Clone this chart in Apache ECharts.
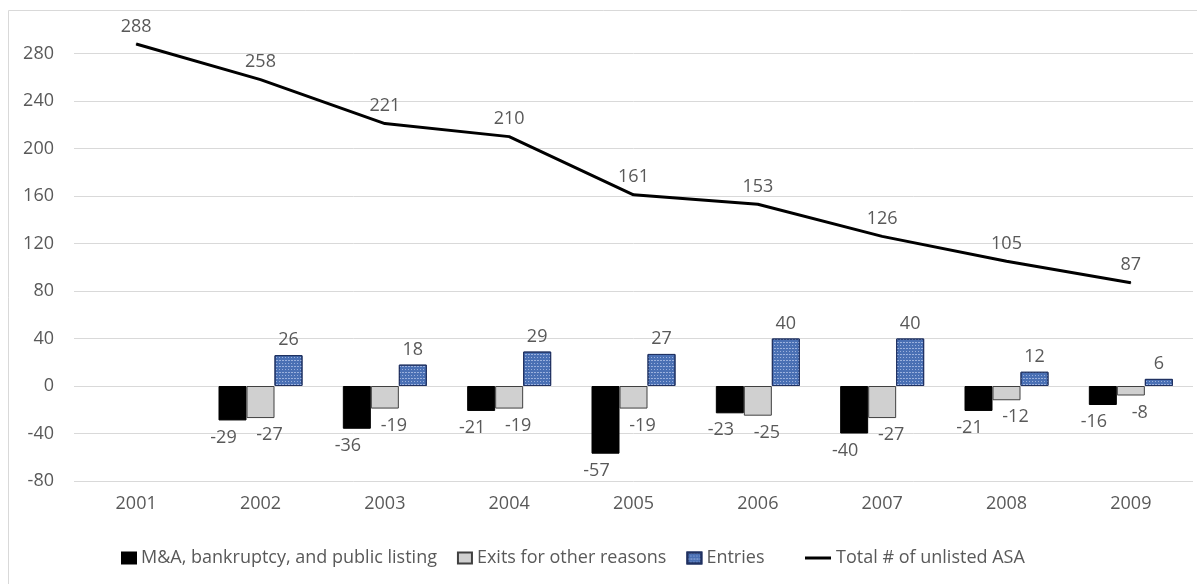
<!DOCTYPE html>
<html><head><meta charset="utf-8">
<script src="https://cdn.jsdelivr.net/npm/echarts@6/dist/echarts.min.js"></script>
<style>html,body{margin:0;padding:0;background:#fff}#c{width:1197px;height:584px}</style>
</head><body><div id="c"></div>
<script>
const years = ['2001','2002','2003','2004','2005','2006','2007','2008','2009'];
const mna = [null,-29,-36,-21,-57,-23,-40,-21,-16];
const exitsOther = [null,-27,-19,-19,-19,-25,-27,-12,-8];
const entries = [null,26,18,29,27,40,40,12,6];
const total = [288,258,221,210,161,153,126,105,87];
const yTicks = {min:-80, max:280, interval:40};

const FONT = '"Open Sans", sans-serif';
const TXT = '#595959';
const FS = 18;
const chart = echarts.init(document.getElementById('c'));
chart.setOption({
  animation:false,
  textStyle:{fontFamily:FONT},
  graphic:[{type:'rect',shape:{x:8.5,y:10.5,width:1300,height:700},style:{fill:'none',stroke:'#d9d9d9',lineWidth:1},silent:true}],
  grid:{left:74,right:4,top:53.5,bottom:103,containLabel:false},
  legend:[{
    top:544,left:116,itemGap:20,itemWidth:14,itemHeight:11,
    textStyle:{color:TXT,fontSize:FS,fontFamily:FONT},
    data:[
      {name:'M&A, bankruptcy, and public listing',icon:'rect'},
      {name:'Exits for other reasons',icon:'rect'},
      {name:'Entries',icon:'rect'}
    ]
  },{
    top:544,left:800,itemWidth:26,itemHeight:3,
    textStyle:{color:TXT,fontSize:FS,fontFamily:FONT},
    data:[{name:'Total # of unlisted ASA',icon:'rect'}]
  }],
  xAxis:{type:'category',data:years,
    axisLine:{show:false},axisTick:{show:false},
    axisLabel:{color:TXT,fontSize:FS,margin:14,fontFamily:FONT}},
  yAxis:{type:'value',min:yTicks.min,max:yTicks.max,interval:yTicks.interval,
    axisLine:{show:false},axisTick:{show:false},
    splitLine:{lineStyle:{color:'#d9d9d9',width:1}},
    axisLabel:{color:TXT,fontSize:FS,margin:20,fontFamily:FONT}},
  series:[
    {name:'M&A, bankruptcy, and public listing',type:'bar',data:mna,barWidth:28,barGap:'0%',
      itemStyle:{color:'#000',borderColor:'#000',borderWidth:1},
      label:{show:true,position:'bottom',distance:8,offset:[-9,0],color:TXT,fontSize:FS,fontFamily:FONT}},
    {name:'Exits for other reasons',type:'bar',data:exitsOther,barWidth:28,barGap:'0%',
      itemStyle:{color:'#d0d0d0',borderColor:'#404040',borderWidth:1},
      label:{show:true,position:'bottom',distance:8,offset:[9,0],color:TXT,fontSize:FS,fontFamily:FONT}},
    {name:'Entries',type:'bar',data:entries,barWidth:28,barGap:'0%',
      itemStyle:{color:'#4a70b4',borderColor:'#1f3060',borderWidth:1,
        decal:{symbol:'rect',symbolSize:1,color:'rgba(220,230,255,0.55)',dashArrayX:[[1,2],[2,1]],dashArrayY:[1,2],rotation:0}},
      label:{show:true,position:'top',distance:6,color:TXT,fontSize:FS,fontFamily:FONT}},
    {name:'Total # of unlisted ASA',type:'line',data:total,clip:false,
      symbol:'circle',symbolSize:1,showSymbol:true,
      lineStyle:{color:'#000',width:3},itemStyle:{color:'#000'},
      label:{show:true,position:'top',distance:8,color:TXT,fontSize:FS,fontFamily:FONT}}
  ]
});
</script></body></html>
